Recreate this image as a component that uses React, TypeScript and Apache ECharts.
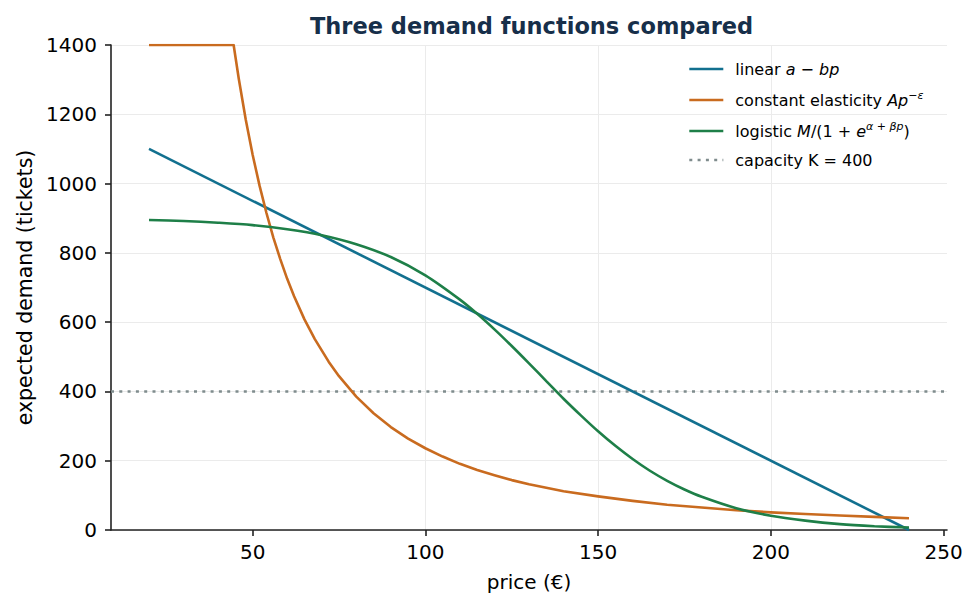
import React, { useEffect, useRef } from 'react';
import * as echarts from 'echarts';

// values
const priceLinear = [20, 240];
const demandLinear = [1100, 0];

const priceConst = [20, 44.5, 46, 48, 50, 52, 54, 56, 58, 60, 62, 65, 68, 72, 75, 80, 85, 90, 95, 100, 105, 110, 115, 120, 125, 130, 140, 150, 160, 170, 180, 190, 200, 210, 220, 230, 240];
const demandConst = [1400, 1400, 1302, 1185, 1083, 994, 915, 844, 782, 725, 675, 608, 551, 486, 444, 385, 337, 297, 264, 236, 212, 191, 173, 158, 144, 132, 112, 97, 84, 73, 65, 57, 51, 46, 42, 38, 34];

const priceLogit = [20, 30, 40, 50, 60, 70, 80, 90, 100, 110, 115, 120, 125, 130, 135, 140, 145, 150, 155, 160, 165, 170, 175, 180, 190, 200, 210, 220, 230, 240];
const demandLogit = [895, 892, 887, 880, 868, 851, 825, 788, 735, 665, 624, 579, 531, 481, 430, 379, 331, 285, 243, 205, 171, 142, 117, 96, 63, 41, 27, 17, 11, 7];

const capacity = 400;
const xTicks = [50, 100, 150, 200, 250];

const seriesNames = ['linear', 'constant elasticity', 'logistic', 'capacity'];
const legendLabels: Record<string, string> = {
  linear: '{n|linear }{i|a}{n| − }{i|bp}',
  'constant elasticity': '{n|constant elasticity }{i|Ap}{sup|−}{supi|ε}',
  logistic: '{n|logistic }{i|M}{n|/(1 + }{i|e}{supi|α}{sup| + }{supi|βp}{n|)}',
  capacity: '{n|capacity K = 400}',
};

const FONT = 'DejaVu Sans';
const zip = (xs: number[], ys: number[]) => xs.map((x, i) => [x, ys[i]]);

const App: React.FC = () => {
  const chartRef = useRef<HTMLDivElement>(null);

  useEffect(() => {
    if (!chartRef.current) return;
    const chart = echarts.init(chartRef.current, null, { renderer: 'svg' });

    chart.setOption({
      animation: false,
      backgroundColor: '#ffffff',
      textStyle: { fontFamily: FONT },
      title: {
        text: 'Three demand functions compared',
        left: 305,
        top: 9,
        textStyle: { fontFamily: FONT, fontSize: 22.5, fontWeight: 'bold', color: '#172f4a' },
      },
      grid: { left: 111, right: 32, top: 45, bottom: 78, containLabel: false, outerBoundsMode: 'none' },
      legend: {
        orient: 'vertical',
        left: 688,
        top: 61,
        padding: 0,
        itemWidth: 34,
        itemHeight: 14,
        itemGap: 13,
        data: seriesNames,
        formatter: (name: string) => legendLabels[name],
        itemStyle: { opacity: 0 },
        lineStyle: { width: 2.6 },
        textStyle: {
          padding: [0, 0, 0, 7],
          rich: {
            n: { fontFamily: FONT, fontSize: 16, lineHeight: 20, color: '#000' },
            i: { fontFamily: FONT, fontSize: 16, lineHeight: 20, fontStyle: 'italic', color: '#000' },
            sup: { fontFamily: FONT, fontSize: 11, lineHeight: 12, verticalAlign: 'top', color: '#000' },
            supi: { fontFamily: FONT, fontSize: 11, lineHeight: 12, verticalAlign: 'top', fontStyle: 'italic', color: '#000' },
          },
        },
      },
      xAxis: {
        type: 'value',
        min: 9,
        max: 251,
        splitNumber: 5,
        name: 'price (€)',
        nameLocation: 'middle',
        nameGap: 42,
        nameTextStyle: { fontFamily: FONT, fontSize: 20, color: '#000' },
        axisLine: { show: true, onZero: false, lineStyle: { color: '#222', width: 1.6 } },
        axisTick: { show: true, length: 6, customValues: xTicks, lineStyle: { color: '#222', width: 1.6 } },
        axisLabel: { customValues: xTicks, margin: 12, fontFamily: FONT, fontSize: 20, color: '#000' },
        splitLine: { show: true, showMinLine: false, showMaxLine: false, lineStyle: { color: '#ebebeb', width: 1 } },
      },
      yAxis: {
        type: 'value',
        min: 0,
        max: 1400,
        interval: 200,
        name: 'expected demand (tickets)',
        nameLocation: 'middle',
        nameGap: 72,
        nameTextStyle: { fontFamily: FONT, fontSize: 20.5, color: '#000' },
        axisLine: { show: true, lineStyle: { color: '#222', width: 1.6 } },
        axisTick: { show: true, length: 6, lineStyle: { color: '#222', width: 1.6 } },
        axisLabel: { margin: 14, fontFamily: FONT, fontSize: 20, color: '#000', formatter: (v: number) => String(v) },
        splitLine: { show: true, lineStyle: { color: '#ebebeb', width: 1 } },
      },
      series: [
        {
          name: 'linear',
          type: 'line',
          data: zip(priceLinear, demandLinear),
          symbol: 'none',
          lineStyle: { color: '#12708f', width: 2.6 },
          itemStyle: { color: '#12708f' },
          z: 3,
        },
        {
          name: 'constant elasticity',
          type: 'line',
          data: zip(priceConst, demandConst),
          symbol: 'none',
          lineStyle: { color: '#c96b1f', width: 2.6, join: 'round' },
          itemStyle: { color: '#c96b1f' },
          z: 3,
        },
        {
          name: 'logistic',
          type: 'line',
          data: zip(priceLogit, demandLogit),
          symbol: 'none',
          smooth: 0.3,
          lineStyle: { color: '#1e7f48', width: 2.6 },
          itemStyle: { color: '#1e7f48' },
          z: 3,
        },
        {
          name: 'capacity',
          type: 'line',
          data: [[9, capacity], [251, capacity]],
          symbol: 'none',
          lineStyle: { color: '#7f8c8d', width: 2.6, type: [3, 5.3] },
          itemStyle: { color: '#7f8c8d' },
          z: 2,
        },
      ],
    });

    return () => {
      chart.dispose();
    };
  }, []);

  return <div ref={chartRef} style={{ position: 'fixed', left: 0, top: 0, width: 979, height: 608 }}></div>;
};

export default App;
